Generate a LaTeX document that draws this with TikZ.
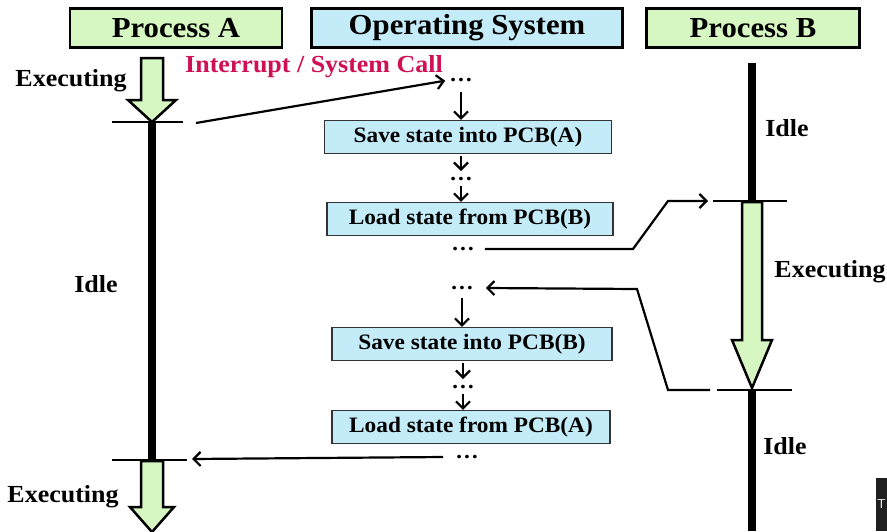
\documentclass[tikz,border=0pt]{standalone}
\usepackage{fontspec}
\setmainfont{Liberation Serif}[FakeStretch=1.06]
\usetikzlibrary{arrows.meta}
\definecolor{procgreen}{RGB}{214,246,194}
\definecolor{osblue}{RGB}{196,236,248}
\definecolor{callred}{RGB}{208,16,84}
\tikzset{
  headbox/.style={draw=black, line width=2.5pt, minimum height=39pt, inner sep=0pt,
                  font=\fontsize{29}{33}\selectfont\bfseries},
  stepbox/.style={draw=black!80, line width=1.2pt, fill=osblue, minimum height=33pt, inner sep=0pt,
                  font=\fontsize{22}{26}\selectfont\bfseries},
  lbl/.style={inner sep=0pt, font=\fontsize{24.5}{28}\selectfont\bfseries},
  dots/.style={inner sep=0pt, font=\fontsize{22}{26}\selectfont\bfseries},
  flow/.style={line width=2.2pt, -{Straight Barb[length=7pt, width=14pt]}},
  tick/.style={line width=2.2pt},
  life/.style={line width=8pt},
  block/.style={draw=black, line width=2.5pt, fill=procgreen, line join=miter}
}
\begin{document}
\begin{tikzpicture}[x=1pt, y=-1pt]
    \useasboundingbox (0,0) rectangle (887,531);
    \clip (0,0) rectangle (887,531);
    % column heads
    \path   node[headbox, fill=procgreen, minimum width=212pt] (PA) at (176,28) {Process A}
            node[headbox, fill=osblue, minimum width=311pt] (OS) at (467,28) {Operating System}
            node[headbox, fill=procgreen, minimum width=213pt] (PB) at (753,28) {Process B};
    % labels
    \path   node[lbl] (exA) at (71,81) {Executing}
            node[lbl, text=callred] (call) at (314,67) {Interrupt / System Call}
            node[lbl] (idleA) at (96,284) {Idle}
            node[lbl] (exA2) at (63,497) {Executing}
            node[lbl] (idleB) at (787,128) {Idle}
            node[lbl] (exB) at (830,272) {Executing}
            node[lbl] (idleB2) at (785,446) {Idle};
    % operating system steps
    \path   node[dots] (D1) at (461,80) {\dots}
            node[stepbox, minimum width=287pt] (SA) at (468,137) {Save state into PCB(A)}
            node[dots] (D2) at (461,179) {\dots}
            node[stepbox, minimum width=286pt] (LB) at (470,219) {Load state from PCB(B)}
            node[dots] (D3) at (463,249) {\dots}
            node[dots] (D4) at (462,288) {\dots}
            node[stepbox, minimum width=280pt] (SB) at (472,344) {Save state into PCB(B)}
            node[dots] (D5) at (463,387) {\dots}
            node[stepbox, minimum width=278pt] (LA) at (471,427) {Load state from PCB(A)}
            node[dots] (D6) at (467,457) {\dots};
    \draw[flow, shorten <=12pt] (D1.center) -- (D1 |- SA.north);
    \draw[flow, shorten <=2pt, shorten >=8pt] (D2 |- SA.south) -- (D2.center);
    \draw[flow, shorten <=7pt] (D2.center) -- (D2 |- LB.north);
    \draw[flow, shorten <=10pt] (D4.center) -- (D4 |- SB.north);
    \draw[flow, shorten <=2pt, shorten >=8pt] (D5 |- SB.south) -- (D5.center);
    \draw[flow, shorten <=7pt] (D5.center) -- (D5 |- LA.north);
    % process time lines
    \draw[block] (141,58) -- (163,58) -- (163,100) -- (176,100) -- (152,122) -- (128,100) -- (141,100) -- cycle;
    \draw[life] (152,122) -- (152,460);
    \draw[block] (141,461) -- (163,461) -- (163,507) -- (174,507) -- (152,532) -- (130,507) -- (141,507) -- cycle;
    \draw[tick] (112,122) -- (183,122);
    \draw[tick] (112,460) -- (187,460);
    \draw[life] (752,63) -- (752,201);
    \draw[block] (742,202) -- (762,202) -- (762,340) -- (772,340) -- (752,388) -- (732,340) -- (742,340) -- cycle;
    \draw[life] (752,390) -- (752,531);
    \draw[tick] (713,201) -- (787,201);
    \draw[tick] (717,390) -- (792,390);
    \coordinate (A1) at (196,123);
    \coordinate (A2) at (192,459);
    \coordinate (B1) at (708,201);
    \coordinate (B2) at (710,390);
    % switches
    \draw[flow, shorten >=4pt] (A1) -- (D1.west);
    \draw[flow] ([xshift=10pt]D3.east) -- (633,249) -- (668,201) -- (B1);
    \draw[flow] (B2) -- (668,390) -- (637,289) -- ([xshift=12pt]D4.east);
    \draw[flow] ([xshift=-12pt]D6.west) -- (A2);
    % cut off tab
    \fill[black!88] (876,478) rectangle (892,531);
    \node[text=white, inner sep=0pt, font=\sffamily\fontsize{13}{13}\selectfont] (T) at (881.5,504) {T};
\end{tikzpicture}
\end{document}
